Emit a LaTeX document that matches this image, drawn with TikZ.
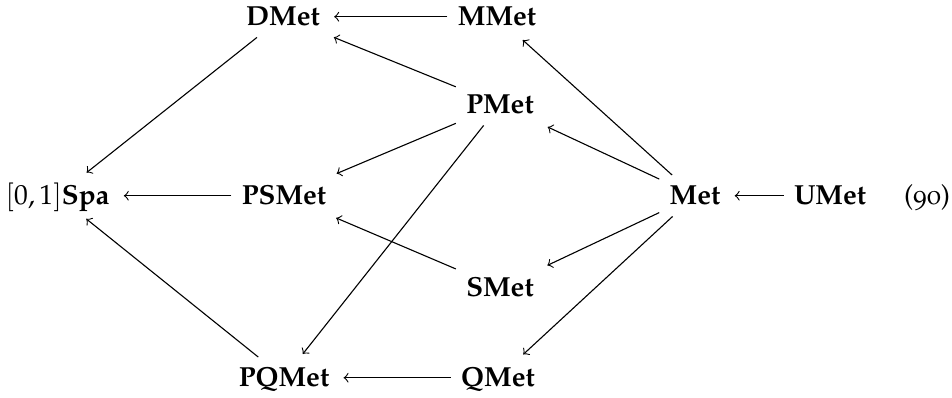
\documentclass[tikz,border=0pt]{standalone}
\usepackage[T1]{fontenc}
\usepackage[osf]{mathpazo}
\tikzset{
  cell/.style={anchor=base, inner xsep=3.6pt, inner ysep=3.3pt, text height=7pt, text depth=1pt, font=\bfseries},
  arr/.style={->, line width=0.4pt, shorten >=1.4pt},
}
\begin{document}
\begin{tikzpicture}[x=0.3625pt, y=-0.3625pt]
\useasboundingbox (0,0) rectangle (952,397);
\node[cell] (spa) at (57.5,204) {\mdseries$[0,1]$\textbf{Spa}};
\node[cell] (psmet) at (284,204) {PSMet};
\node[cell] (met) at (695,204) {Met};
\node[cell] (umet) at (830,204) {UMet};
\node[anchor=base, font=\mdseries] (eqno) at (927,204) {(90)};
\node[cell] (dmet) at (283,25) {DMet};
\node[cell] (mmet) at (497,25) {MMet};
\node[cell] (pmet) at (500,113) {PMet};
\node[cell] (smet) at (500,296) {SMet};
\node[cell] (pqmet) at (284,386) {PQMet};
\node[cell] (qmet) at (498,386) {QMet};
\draw[arr] (mmet) -- (dmet);
\draw[arr] (pmet) -- (dmet);
\draw[arr] (dmet) -- (spa);
\draw[arr] (met) -- (mmet);
\draw[arr] (met) -- (pmet);
\draw[arr] (pmet) -- (psmet);
\draw[arr] (pmet) -- (pqmet);
\draw[arr] (psmet) -- (spa);
\draw[arr] (umet) -- (met);
\draw[arr] (smet) -- (psmet);
\draw[arr] (met) -- (smet);
\draw[arr] (met) -- (qmet);
\draw[arr] (pqmet) -- (spa);
\draw[arr] (qmet) -- (pqmet);
\end{tikzpicture}
\end{document}
